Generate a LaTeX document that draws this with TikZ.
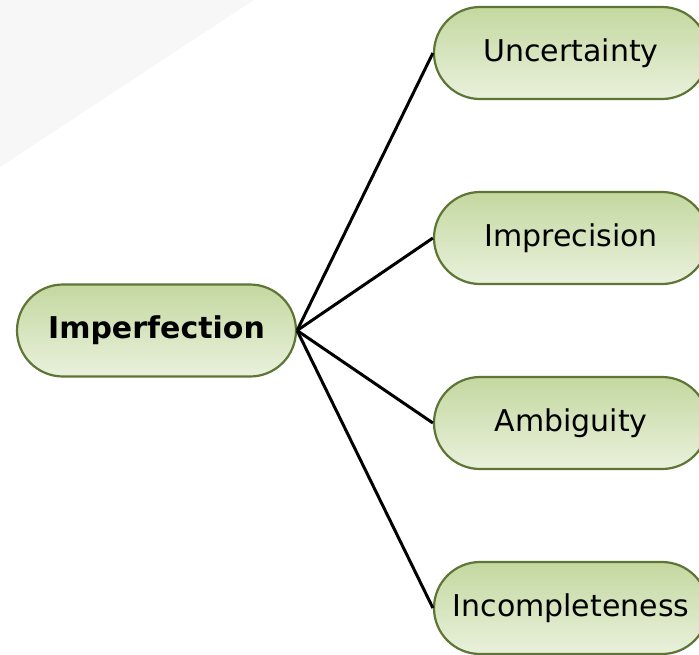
\documentclass[tikz,border=0pt]{standalone}
\usepackage{fontspec}
\setmainfont{DejaVu Sans}
\definecolor{bordergreen}{HTML}{5E7535}
\definecolor{topgreen}{HTML}{C4D8A0}
\definecolor{botgreen}{HTML}{E9F1DC}
\definecolor{bggray}{HTML}{F7F7F7}
\tikzset{
  pill/.style={draw=bordergreen, line width=2.2pt, rounded corners=46pt,
    top color=topgreen, bottom color=botgreen,
    minimum height=92pt, inner sep=0pt, font=\fontsize{30}{32}\selectfont},
  link/.style={draw=black, line width=3pt}
}
\begin{document}
\begin{tikzpicture}[x=1pt,y=-1pt]
\useasboundingbox (0,0) rectangle (699,654);
\clip (0,0) rectangle (699,654);
\fill[bggray] (0,0) -- (254,0) -- (0,167) -- cycle;
\node[pill, minimum width=279pt, font=\fontsize{30}{32}\selectfont\bfseries] (imp) at (156.5,330.5) {Imperfection};
\node[pill, minimum width=274pt] (unc) at (571,53) {Uncertainty};
\node[pill, minimum width=274pt] (pre) at (571,238) {Imprecision};
\node[pill, minimum width=274pt] (amb) at (571,423) {Ambiguity};
\node[pill, minimum width=274pt] (inc) at (571,608) {Incompleteness};
\foreach \t in {unc,pre,amb,inc}{
  \draw[link] (imp.east) -- (\t.west);
}
\end{tikzpicture}
\end{document}
